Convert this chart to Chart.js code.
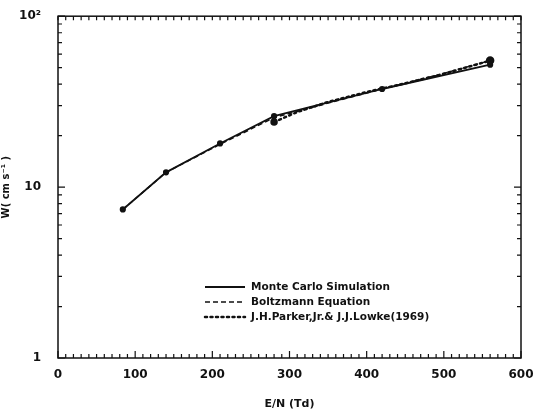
<!DOCTYPE html>
<html>
<head>
<meta charset="utf-8">
<script src="https://cdn.jsdelivr.net/npm/chart.js@4/dist/chart.umd.min.js"></script>
<style>
  html, body { margin: 0; padding: 0; background: #fff; }
  #contenedor { width: 536px; height: 411px; }
</style>
</head>
<body>
<div id="contenedor"><canvas id="chartVelocidad"></canvas></div>
<script>
/* datos */
const energiaMC = [84, 140, 210, 280, 420, 560];
const wMonteCarlo = [7.4, 12.2, 18, 26, 37.5, 52];
const energiaBoltzmann = [84, 140, 210, 280, 350, 420, 490, 560];
const wBoltzmann = [7.4, 12.2, 17.8, 25.5, 31, 37.5, 45, 55];
const energiaParker = [280, 310, 350, 400, 450, 500, 560];
const wParker = [24, 27.5, 31.5, 36, 40.5, 46, 55];
const ticksX = [0, 100, 200, 300, 400, 500, 600];
const ticksY = [1, 10, 100];
const etiquetasY = ["1", "10", "10²"];
const leyenda = ["Monte Carlo Simulation", "Boltzmann Equation", "J.H.Parker,Jr.& J.J.Lowke(1969)"];

const fuente = "DejaVu Sans";
const negro = "#111";

const puntos = (xs, ys) => xs.map((x, i) => ({ x: x, y: ys[i] }));

/* marcas hacia adentro, marco y leyenda */
const marcoPlugin = {
  id: "marco",
  afterDatasetsDraw(chart) {
    const { ctx, chartArea: a, scales } = chart;
    ctx.save();
    ctx.strokeStyle = negro;
    ctx.lineWidth = 1.5;
    ctx.strokeRect(a.left, a.top, a.right - a.left, a.bottom - a.top);
    ctx.lineWidth = 1.2;
    ctx.beginPath();
    for (let v = 0; v <= 600; v += 10) {
      const px = scales.x.getPixelForValue(v);
      const largo = v % 100 === 0 ? 7 : 4;
      ctx.moveTo(px, a.bottom); ctx.lineTo(px, a.bottom - largo);
      ctx.moveTo(px, a.top); ctx.lineTo(px, a.top + 4);
    }
    for (let d = 1; d <= 10; d *= 10) {
      for (let m = 1; m <= 10; m++) {
        const py = scales.y.getPixelForValue(d * m);
        const largo = m === 1 || m === 10 ? 7 : 4;
        ctx.moveTo(a.left, py); ctx.lineTo(a.left + largo, py);
        ctx.moveTo(a.right, py); ctx.lineTo(a.right - largo, py);
      }
    }
    ctx.stroke();

    // leyenda
    const estilos = [[], [5, 3], [2, 3.5]];
    const anchos = [1.8, 1.5, 2.5];
    ctx.font = "bold 10.5px '" + fuente + "'";
    ctx.fillStyle = negro;
    ctx.textBaseline = "middle";
    leyenda.forEach((texto, i) => {
      const y = 287 + i * 15;
      ctx.beginPath();
      ctx.setLineDash(estilos[i]);
      ctx.lineWidth = anchos[i];
      ctx.lineCap = i === 2 ? "round" : "butt";
      ctx.moveTo(205, y); ctx.lineTo(245, y);
      ctx.stroke();
      ctx.setLineDash([]);
      ctx.fillText(texto, 251, y);
    });
    ctx.restore();
  }
};

const context = document.getElementById("chartVelocidad").getContext("2d");

const chartVelocidad = new Chart(context, {
  type: "scatter",
  data: {
    datasets: [
      {
        label: leyenda[0],
        data: puntos(energiaMC, wMonteCarlo),
        showLine: true,
        borderColor: negro,
        backgroundColor: negro,
        borderWidth: 1.8,
        pointRadius: 2.2,
        pointHoverRadius: 0,
      },
      {
        label: leyenda[1],
        data: puntos(energiaBoltzmann, wBoltzmann),
        showLine: true,
        borderColor: negro,
        borderWidth: 1.5,
        borderDash: [5, 3],
        pointRadius: 0,
      },
      {
        label: leyenda[2],
        data: puntos(energiaParker, wParker),
        showLine: true,
        borderColor: negro,
        backgroundColor: negro,
        borderWidth: 2.5,
        borderDash: [2, 3.5],
        borderCapStyle: "round",
        pointRadius: [2.5, 0, 0, 0, 0, 0, 3],
      },
    ],
  },
  options: {
    responsive: true,
    maintainAspectRatio: false,
    animation: false,
    layout: { padding: { left: 0, right: 15, top: 10, bottom: 0 } },
    plugins: {
      legend: { display: false },
      tooltip: { enabled: false },
    },
    scales: {
      x: {
        type: "linear",
        min: 0,
        max: 600,
        afterBuildTicks: (s) => { s.ticks = ticksX.map((v) => ({ value: v })); },
        afterFit: (s) => { s.height = 53; },
        grid: { display: false },
        border: { display: false },
        ticks: {
          color: negro,
          padding: 2,
          font: { family: fuente, size: 12, weight: "bold" },
        },
        title: {
          display: true,
          text: "E/N (Td)",
          color: negro,
          padding: { top: 12, bottom: 0 },
          font: { family: fuente, size: 11, weight: "bold" },
        },
      },
      y: {
        type: "logarithmic",
        min: 1,
        max: 100,
        afterBuildTicks: (s) => { s.ticks = ticksY.map((v) => ({ value: v })); },
        afterFit: (s) => { s.width = 58; },
        grid: { display: false },
        border: { display: false },
        ticks: {
          color: negro,
          padding: 9,
          font: { family: fuente, size: 12, weight: "bold" },
          callback: (v) => etiquetasY[ticksY.indexOf(v)],
        },
        title: {
          display: true,
          text: "W( cm s⁻¹ )",
          color: negro,
          padding: { top: 0, bottom: 4 },
          font: { family: fuente, size: 10, weight: "bold" },
        },
      },
    },
  },
  plugins: [marcoPlugin],
});
</script>
</body>
</html>
